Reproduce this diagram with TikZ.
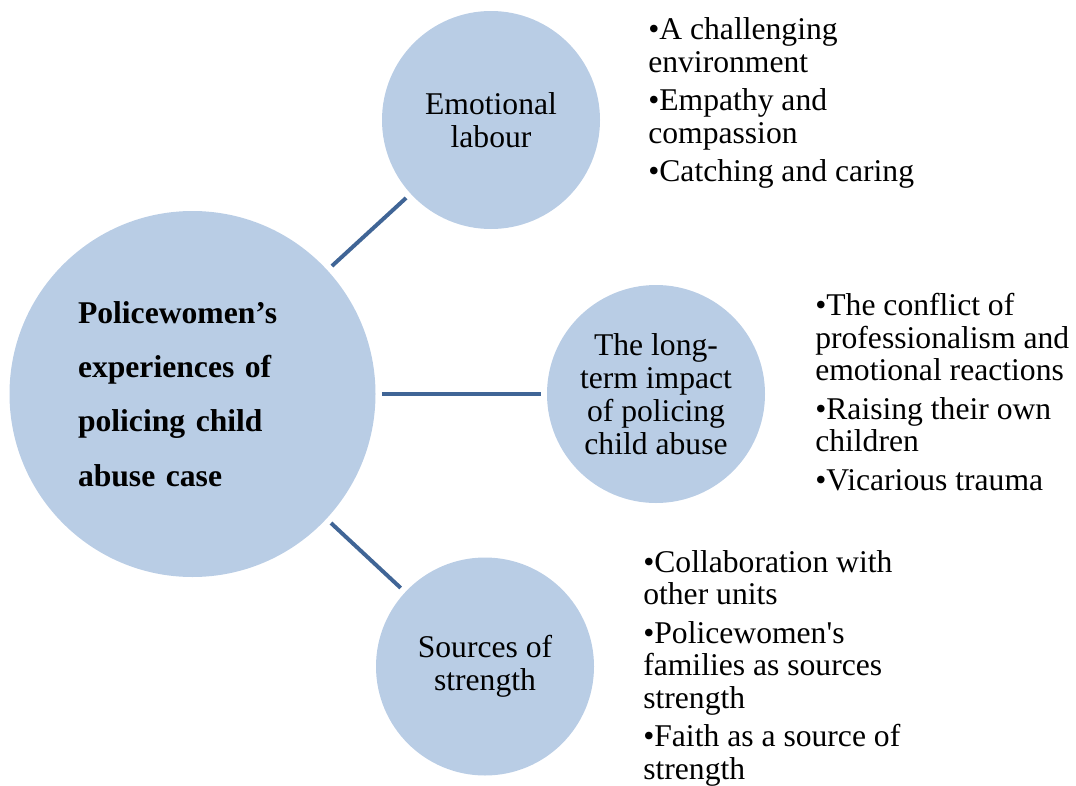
\documentclass[tikz,border=0pt]{standalone}
\usepackage{fontspec}
\setmainfont{Liberation Serif}
\usetikzlibrary{positioning}

\definecolor{bubblefill}{RGB}{185,205,229}
\definecolor{linkblue}{RGB}{64,101,150}

\tikzset{
    bubble/.style = {circle, fill = bubblefill, draw = none, inner sep = 0pt,
        align = center, font = \fontsize{22.5}{23.5}\selectfont},
    link/.style = {draw = linkblue, line width = 2.8pt,
        shorten > = 0.15cm, shorten < = 0.15cm},
    items/.style = {anchor = base west, inner sep = 0pt, align = left,
        font = \fontsize{22.5}{23.1}\selectfont}
}

\begin{document}
\begin{tikzpicture}

    \useasboundingbox (0,0) rectangle (26.9,-19.625);

    \node[bubble,
    minimum size = 9.15cm,
    text width = 5.725cm,
    align = left,
    font = \fontsize{22.5}{38.7}\selectfont\bfseries] (main) at (4.8125,-9.85)
    {Policewomen’s\\experiences of\\policing child\\abuse case};

    \node[bubble, minimum size = 5.45cm] (emotion) at (12.275,-3.0)
    {Emotional\\labour};

    \node[bubble, minimum size = 5.45cm] (impact) at (16.4,-9.85)
    {The long-\\term impact\\of policing\\child abuse};

    \node[bubble, minimum size = 5.45cm] (strength) at (12.125,-16.6625)
    {Sources of\\strength};


    % lists sit on the baseline of their last line
    \node[items] (emotion list) at (16.2,-4.54)
    {•A challenging\\environment\\[4.3pt]
     •Empathy and\\compassion\\[4.3pt]
     •Catching and caring};

    \node[items] (impact list) at (20.375,-12.25)
    {•The conflict of\\professionalism and\\emotional reactions\\[4.3pt]
     •Raising their own\\children\\[4.3pt]
     •Vicarious trauma};

    \node[items] (strength list) at (16.075,-19.475)
    {•Collaboration with\\other units\\[4.3pt]
     •Policewomen\textquotesingle s\\families as sources\\strength\\[4.3pt]
     •Faith as a source of\\strength};


      \draw[link] (main) to (emotion);
      \draw[link] (main) to (impact);
      \draw[link] (main) to (strength);
  \end{tikzpicture}
\end{document}
